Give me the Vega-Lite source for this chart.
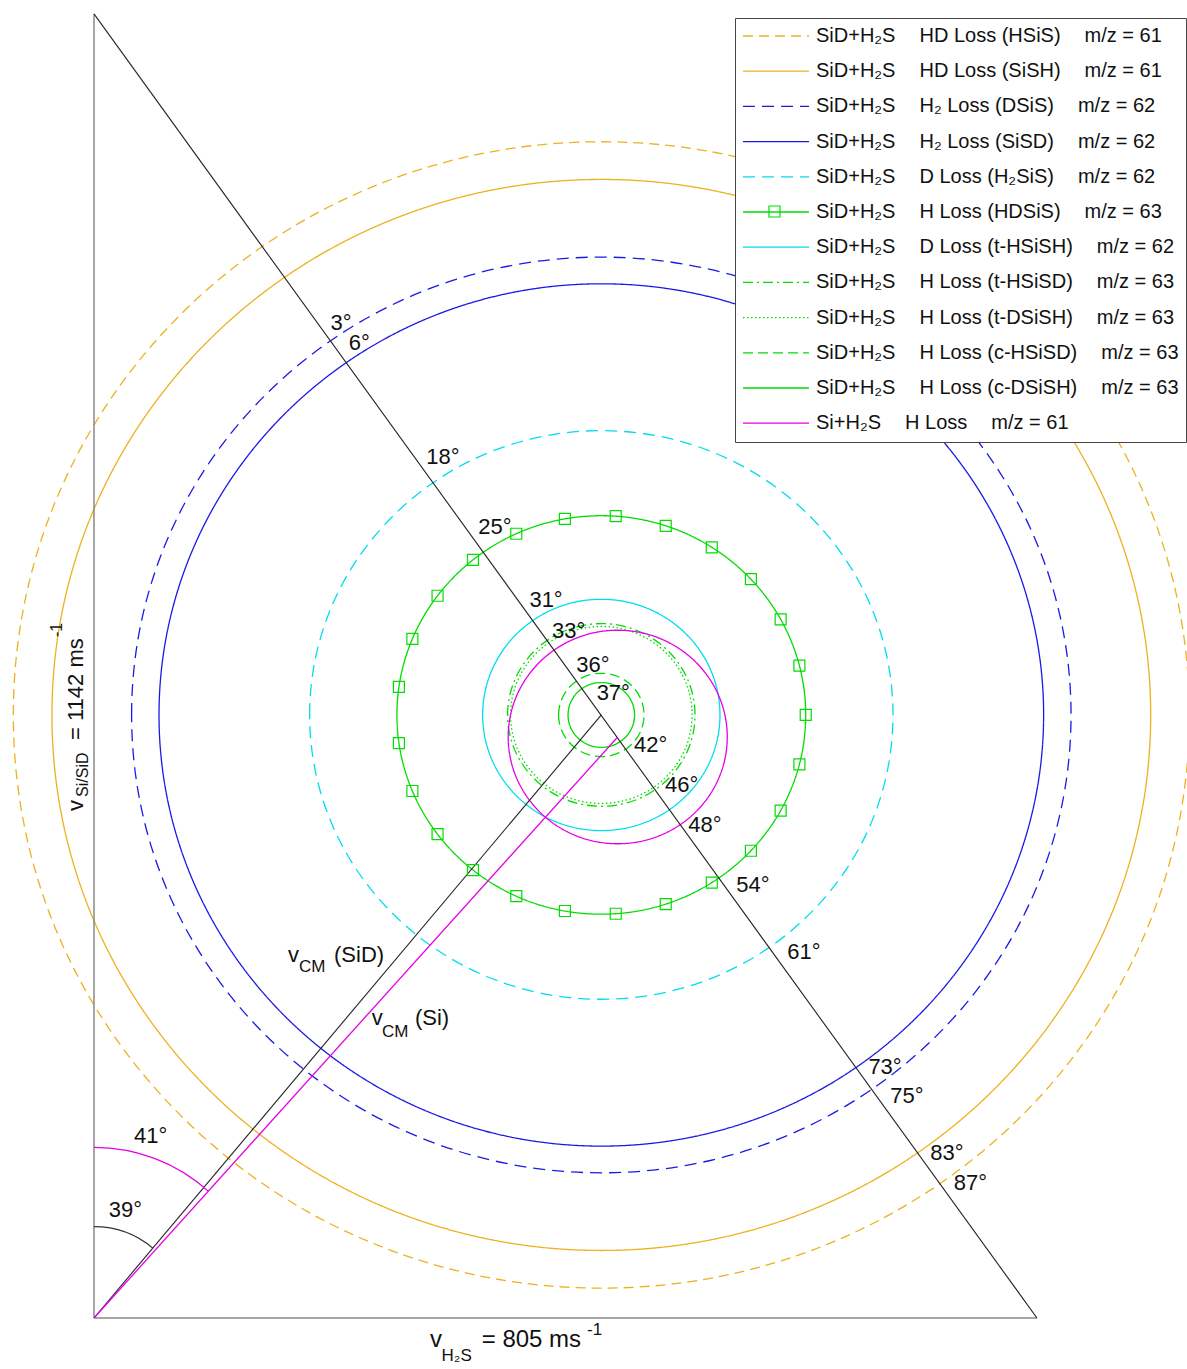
{
  "$schema": "https://vega.github.io/schema/vega-lite/v6.json",
  "width": 1187,
  "height": 1369,
  "padding": 0,
  "autosize": {"type": "none"},
  "background": "white",
  "config": {"view": {"stroke": null}, "axis": {"disable": true}},
  "datasets": {
    "circles": [
      {"series": "SiD+H\u2082S\u2003\u2009HD Loss (HSiS)\u2003\u2009m/z = 61", "x": 433.1, "y": 528.1, "r": 502},
      {"series": "SiD+H\u2082S\u2003\u2009HD Loss (SiSH)\u2003\u2009m/z = 61", "x": 433.1, "y": 528.1, "r": 469},
      {"series": "SiD+H\u2082S\u2003\u2009H\u2082 Loss (DSiS)\u2003\u2009m/z = 62", "x": 433.1, "y": 528.1, "r": 401},
      {"series": "SiD+H\u2082S\u2003\u2009H\u2082 Loss (SiSD)\u2003\u2009m/z = 62", "x": 433.1, "y": 528.1, "r": 377.6},
      {"series": "SiD+H\u2082S\u2003\u2009D Loss (H\u2082SiS)\u2003\u2009m/z = 62", "x": 433.1, "y": 528.1, "r": 249},
      {"series": "SiD+H\u2082S\u2003\u2009H Loss (HDSiS)\u2003\u2009m/z = 63", "x": 433.1, "y": 528.1, "r": 174.5},
      {"series": "SiD+H\u2082S\u2003\u2009D Loss (t-HSiSH)\u2003\u2009m/z = 62", "x": 433.1, "y": 528.1, "r": 101.3},
      {"series": "SiD+H\u2082S\u2003\u2009H Loss (t-HSiSD)\u2003\u2009m/z = 63", "x": 433.1, "y": 528.1, "r": 80},
      {"series": "SiD+H\u2082S\u2003\u2009H Loss (t-DSiSH)\u2003\u2009m/z = 63", "x": 433.1, "y": 528.1, "r": 77.5},
      {"series": "SiD+H\u2082S\u2003\u2009H Loss (c-HSiSD)\u2003\u2009m/z = 63", "x": 433.1, "y": 528.1, "r": 36.5},
      {"series": "SiD+H\u2082S\u2003\u2009H Loss (c-DSiSH)\u2003\u2009m/z = 63", "x": 433.1, "y": 528.1, "r": 28.4},
      {"series": "Si+H\u2082S\u2003\u2009H Loss\u2003\u2009m/z = 61", "x": 447.1, "y": 508.8, "r": 93.5}
    ],
    "grayLines": [
      {"x": 0, "y": 0, "x2": 0, "y2": 1142},
      {"x": 0, "y": 0, "x2": 805, "y2": 0}
    ],
    "blackLines": [
      {"x": 0, "y": 1142, "x2": 805, "y2": 0},
      {"x": 0, "y": 0, "x2": 433.1, "y2": 528.1}
    ],
    "magentaLines": [
      {"x": 0, "y": 0, "x2": 447.1, "y2": 508.8}
    ],
    "squares": [
      {"marker": "HDSiS", "x": 607.6, "y": 528.1},
      {"marker": "HDSiS", "x": 602.2, "y": 571.3}, {"marker": "HDSiS", "x": 602.2, "y": 484.9},
      {"marker": "HDSiS", "x": 586.2, "y": 611.8}, {"marker": "HDSiS", "x": 586.2, "y": 444.4},
      {"marker": "HDSiS", "x": 560.8, "y": 647.0}, {"marker": "HDSiS", "x": 560.8, "y": 409.2},
      {"marker": "HDSiS", "x": 527.4, "y": 674.9}, {"marker": "HDSiS", "x": 527.4, "y": 381.3},
      {"marker": "HDSiS", "x": 488.1, "y": 693.7}, {"marker": "HDSiS", "x": 488.1, "y": 362.5},
      {"marker": "HDSiS", "x": 445.4, "y": 702.2}, {"marker": "HDSiS", "x": 445.4, "y": 354.0},
      {"marker": "HDSiS", "x": 402.0, "y": 699.8}, {"marker": "HDSiS", "x": 402.0, "y": 356.4},
      {"marker": "HDSiS", "x": 360.5, "y": 686.8}, {"marker": "HDSiS", "x": 360.5, "y": 369.4},
      {"marker": "HDSiS", "x": 323.5, "y": 663.9}, {"marker": "HDSiS", "x": 323.5, "y": 392.3},
      {"marker": "HDSiS", "x": 293.3, "y": 632.5}, {"marker": "HDSiS", "x": 293.3, "y": 423.7},
      {"marker": "HDSiS", "x": 271.8, "y": 594.7}, {"marker": "HDSiS", "x": 271.8, "y": 461.5},
      {"marker": "HDSiS", "x": 260.3, "y": 552.7}, {"marker": "HDSiS", "x": 260.3, "y": 503.5}
    ],
    "arcs": [
      {"kind": "SiD", "x": 0, "y": 0, "a0": 0, "a1": 40.1, "r": 80},
      {"kind": "Si", "x": 0, "y": 0, "a0": 0, "a1": 42.0, "r": 149.5}
    ],
    "angles": [
      {"label": "3\u00b0", "x": 210.9, "y": 871.4},
      {"label": "6\u00b0", "x": 226.5, "y": 853.6},
      {"label": "18\u00b0", "x": 297.9, "y": 754.0},
      {"label": "25\u00b0", "x": 342.3, "y": 692.7},
      {"label": "31\u00b0", "x": 385.9, "y": 628.7},
      {"label": "33\u00b0", "x": 405.2, "y": 601.6},
      {"label": "36\u00b0", "x": 426.0, "y": 572.1},
      {"label": "37\u00b0", "x": 443.3, "y": 547.3},
      {"label": "42\u00b0", "x": 475.2, "y": 501.8},
      {"label": "46\u00b0", "x": 501.7, "y": 466.8},
      {"label": "48\u00b0", "x": 521.6, "y": 431.7},
      {"label": "54\u00b0", "x": 562.6, "y": 379.4},
      {"label": "61\u00b0", "x": 606.1, "y": 320.5},
      {"label": "73\u00b0", "x": 675.3, "y": 220.1},
      {"label": "75\u00b0", "x": 694.0, "y": 194.4},
      {"label": "83\u00b0", "x": 728.2, "y": 144.2},
      {"label": "87\u00b0", "x": 748.2, "y": 118.0},
      {"label": "41\u00b0", "x": 48.4, "y": 159.2},
      {"label": "39\u00b0", "x": 26.9, "y": 94.6}
    ],
    "labels": [
      {"text": "v", "part": "main", "dir": "h", "x": 286.8, "y": -25.4},
      {"text": "H\u2082S", "part": "sub", "dir": "h", "x": 296.7, "y": -37.7},
      {"text": "= 805 ms", "part": "main", "dir": "h", "x": 331.0, "y": -25.4},
      {"text": "-1", "part": "sup", "dir": "h", "x": 420.9, "y": -14.9},
      {"text": "v", "part": "main", "dir": "h", "x": 165.6, "y": 311.8},
      {"text": "CM", "part": "sub", "dir": "h", "x": 175.0, "y": 303.0},
      {"text": "(SiD)", "part": "main", "dir": "h", "x": 204.9, "y": 311.8},
      {"text": "v", "part": "main", "dir": "h", "x": 237.1, "y": 256.6},
      {"text": "CM", "part": "sub", "dir": "h", "x": 245.9, "y": 246.5},
      {"text": "(Si)", "part": "main", "dir": "h", "x": 274.0, "y": 256.6},
      {"text": "v", "part": "main", "dir": "v", "x": -9.4, "y": 444.0},
      {"text": "Si/SiD", "part": "sub", "dir": "v", "x": -5.1, "y": 456.3},
      {"text": "= 1142 ms", "part": "main", "dir": "v", "x": -9.4, "y": 506.2},
      {"text": "-1", "part": "sup", "dir": "v", "x": -27.3, "y": 596.4}
    ]
  },
  "encoding": {
    "x": {"field": "x", "type": "quantitative", "scale": {"domain": [-80.25, 933.1], "nice": false, "zero": false}, "axis": null},
    "y": {"field": "y", "type": "quantitative", "scale": {"domain": [-44.66, 1154.2], "nice": false, "zero": false}, "axis": null}
  },
  "layer": [
    {
      "data": {"name": "circles"},
      "mark": {"type": "point", "shape": "M -1 0 A 1 0.9748 0 0 1 1 0 A 1 0.9748 0 0 1 -1 0 Z", "filled": false, "strokeWidth": 1.3, "opacity": 1},
      "encoding": {
        "color": {
          "field": "series", "type": "nominal",
          "scale": {
            "domain": [
              "SiD+H\u2082S\u2003\u2009HD Loss (HSiS)\u2003\u2009m/z = 61",
              "SiD+H\u2082S\u2003\u2009HD Loss (SiSH)\u2003\u2009m/z = 61",
              "SiD+H\u2082S\u2003\u2009H\u2082 Loss (DSiS)\u2003\u2009m/z = 62",
              "SiD+H\u2082S\u2003\u2009H\u2082 Loss (SiSD)\u2003\u2009m/z = 62",
              "SiD+H\u2082S\u2003\u2009D Loss (H\u2082SiS)\u2003\u2009m/z = 62",
              "SiD+H\u2082S\u2003\u2009H Loss (HDSiS)\u2003\u2009m/z = 63",
              "SiD+H\u2082S\u2003\u2009D Loss (t-HSiSH)\u2003\u2009m/z = 62",
              "SiD+H\u2082S\u2003\u2009H Loss (t-HSiSD)\u2003\u2009m/z = 63",
              "SiD+H\u2082S\u2003\u2009H Loss (t-DSiSH)\u2003\u2009m/z = 63",
              "SiD+H\u2082S\u2003\u2009H Loss (c-HSiSD)\u2003\u2009m/z = 63",
              "SiD+H\u2082S\u2003\u2009H Loss (c-DSiSH)\u2003\u2009m/z = 63",
              "Si+H\u2082S\u2003\u2009H Loss\u2003\u2009m/z = 61"
            ],
            "range": ["#EDB120", "#EDB120", "#1A1AE6", "#1A1AE6", "#00DDEE", "#00DD00", "#00DDEE", "#00DD00", "#00DD00", "#00DD00", "#00DD00", "#E600E6"]
          },
          "legend": {
            "title": null, "orient": "none", "legendX": 735, "legendY": 18,
            "padding": 7, "strokeColor": "#444", "fillColor": "white",
            "symbolType": "stroke", "symbolSize": 4356, "symbolStrokeWidth": 1.3, "symbolFillColor": "transparent",
            "labelFont": "Liberation Sans", "labelFontSize": 20, "labelColor": "#111", "labelLimit": 700,
            "labelOffset": 6, "clipHeight": 22, "rowPadding": 13.2, "symbolOffset": 0, "zindex": 1
          }
        },
        "strokeDash": {
          "field": "series", "type": "nominal",
          "scale": {
            "domain": [
              "SiD+H\u2082S\u2003\u2009HD Loss (HSiS)\u2003\u2009m/z = 61",
              "SiD+H\u2082S\u2003\u2009HD Loss (SiSH)\u2003\u2009m/z = 61",
              "SiD+H\u2082S\u2003\u2009H\u2082 Loss (DSiS)\u2003\u2009m/z = 62",
              "SiD+H\u2082S\u2003\u2009H\u2082 Loss (SiSD)\u2003\u2009m/z = 62",
              "SiD+H\u2082S\u2003\u2009D Loss (H\u2082SiS)\u2003\u2009m/z = 62",
              "SiD+H\u2082S\u2003\u2009H Loss (HDSiS)\u2003\u2009m/z = 63",
              "SiD+H\u2082S\u2003\u2009D Loss (t-HSiSH)\u2003\u2009m/z = 62",
              "SiD+H\u2082S\u2003\u2009H Loss (t-HSiSD)\u2003\u2009m/z = 63",
              "SiD+H\u2082S\u2003\u2009H Loss (t-DSiSH)\u2003\u2009m/z = 63",
              "SiD+H\u2082S\u2003\u2009H Loss (c-HSiSD)\u2003\u2009m/z = 63",
              "SiD+H\u2082S\u2003\u2009H Loss (c-DSiSH)\u2003\u2009m/z = 63",
              "Si+H\u2082S\u2003\u2009H Loss\u2003\u2009m/z = 61"
            ],
            "range": [[10, 6], [1, 0], [12, 7], [1, 0], [12, 7], [1, 0], [1, 0], [10, 4, 2, 4], [1.5, 2.5], [10, 5], [1, 0], [1, 0]]
          }
        },
        "size": {
          "field": "r", "type": "quantitative",
          "scale": {"type": "pow", "exponent": 2, "domain": [0, 500], "range": [0, 1372084]},
          "legend": null
        }
      }
    },
    {
      "data": {"name": "grayLines"},
      "mark": {"type": "rule", "color": "#888888", "strokeWidth": 1.5},
      "encoding": {"x2": {"field": "x2"}, "y2": {"field": "y2"}}
    },
    {
      "data": {"name": "blackLines"},
      "mark": {"type": "rule", "color": "#222222", "strokeWidth": 1.1},
      "encoding": {"x2": {"field": "x2"}, "y2": {"field": "y2"}}
    },
    {
      "data": {"name": "magentaLines"},
      "mark": {"type": "rule", "color": "#E600E6", "strokeWidth": 1.3},
      "encoding": {"x2": {"field": "x2"}, "y2": {"field": "y2"}}
    },
    {
      "data": {"name": "squares"},
      "mark": {"type": "point", "size": 121, "filled": false, "color": "#00DD00", "strokeWidth": 1.2, "opacity": 1},
      "encoding": {
        "shape": {
          "field": "marker", "type": "nominal",
          "scale": {"domain": ["HDSiS"], "range": ["square"]},
          "legend": {
            "title": null, "orient": "none", "legendX": 768, "legendY": 205,
            "padding": 0, "strokeColor": null, "fillColor": null,
            "labelExpr": "''", "labelFontSize": 1, "labelOffset": 0, "symbolOffset": 0,
            "symbolSize": 121, "symbolStrokeWidth": 1.2, "symbolStrokeColor": "#00DD00", "symbolFillColor": "transparent",
            "zindex": 3
          }
        }
      }
    },
    {
      "data": {"name": "arcs"},
      "mark": {"type": "arc", "filled": false, "strokeWidth": 1.3},
      "encoding": {
        "theta": {"field": "a0", "type": "quantitative", "stack": null, "scale": {"domain": [0, 360], "range": [0, 6.283185]}},
        "theta2": {"field": "a1"},
        "radius": {"field": "r", "type": "quantitative", "scale": {"type": "linear", "domain": [0, 200], "range": [0, 228.38], "zero": true}},
        "radius2": {"field": "r"},
        "stroke": {"field": "kind", "type": "nominal", "scale": {"domain": ["SiD", "Si"], "range": ["#333333", "#E600E6"]}, "legend": null}
      }
    },
    {
      "data": {"name": "angles"},
      "mark": {"type": "text", "font": "Liberation Sans", "fontSize": 22, "align": "center", "baseline": "middle", "color": "#111111"},
      "encoding": {"text": {"field": "label"}}
    },
    {
      "data": {"name": "labels"},
      "transform": [{"filter": "datum.part === 'main' && datum.dir === 'h' && datum.y > 0"}],
      "mark": {"type": "text", "font": "Liberation Sans", "fontSize": 22, "align": "left", "baseline": "alphabetic", "color": "#111111"},
      "encoding": {"text": {"field": "text"}}
    },
    {
      "data": {"name": "labels"},
      "transform": [{"filter": "datum.part === 'main' && datum.dir === 'h' && datum.y < 0"}],
      "mark": {"type": "text", "font": "Liberation Sans", "fontSize": 24, "align": "left", "baseline": "alphabetic", "color": "#111111"},
      "encoding": {"text": {"field": "text"}}
    },
    {
      "data": {"name": "labels"},
      "transform": [{"filter": "datum.part !== 'main' && datum.dir === 'h'"}],
      "mark": {"type": "text", "font": "Liberation Sans", "fontSize": 17, "align": "left", "baseline": "alphabetic", "color": "#111111"},
      "encoding": {"text": {"field": "text"}}
    },
    {
      "data": {"name": "labels"},
      "transform": [{"filter": "datum.part === 'main' && datum.dir === 'v'"}],
      "mark": {"type": "text", "font": "Liberation Sans", "fontSize": 22, "align": "left", "baseline": "alphabetic", "angle": 270, "color": "#111111"},
      "encoding": {"text": {"field": "text"}}
    },
    {
      "data": {"name": "labels"},
      "transform": [{"filter": "datum.part !== 'main' && datum.dir === 'v'"}],
      "mark": {"type": "text", "font": "Liberation Sans", "fontSize": 16, "align": "left", "baseline": "alphabetic", "angle": 270, "color": "#111111"},
      "encoding": {"text": {"field": "text"}}
    }
  ]
}
